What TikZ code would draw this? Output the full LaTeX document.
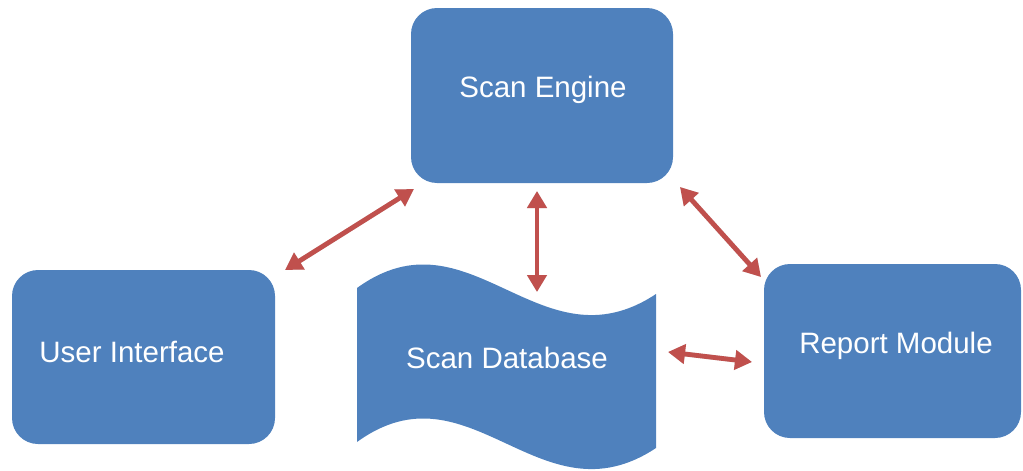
\documentclass[tikz,border=0pt]{standalone}
\usepackage{fontspec}
\setmainfont{Liberation Sans}
\usetikzlibrary{arrows.meta}
\definecolor{boxblue}{HTML}{4F81BD}
\definecolor{arrowred}{HTML}{C0504D}
\tikzset{
  block/.style={fill=boxblue, rounded corners=26pt},
  label/.style={text=white, font=\fontsize{29.5}{34}\selectfont, inner sep=0pt, anchor=base},
  link/.style={draw=arrowred, line width=4.8pt,
    {Triangle[length=17pt,width=19pt]}-{Triangle[length=17pt,width=19pt]}},
  linkshadow/.style={draw=black, opacity=0.16, line width=4.8pt,
    {Triangle[length=17pt,width=19pt]}-{Triangle[length=17pt,width=19pt]}}
}
\begin{document}
\begin{tikzpicture}[x=1pt, y=-1pt]
\useasboundingbox (0,0) rectangle (1023,471);

% boxes
\path[block] (411,8) rectangle (673,183);
\node[label] (engine) at (543,97.5) {Scan Engine};

\path[block] (12,270) rectangle (275,444);
\node[label] (ui) at (132,362) {User Interface};

\path[block] (764,264) rectangle (1021,438);
\node[label] (report) at (896,353) {Report Module};

% wave-shaped data store
\fill[boxblue] (357,288) .. controls (470,206) and (540,371) .. (656,294)
  -- (656,448) .. controls (540,525) and (470,360) .. (357,442) -- cycle;
\node[label] (db) at (507,368) {Scan Database};

% connector ends
\coordinate (uiA) at (285,270);
\coordinate (engA) at (414,189);
\coordinate (engB) at (537,191);
\coordinate (dbA) at (537,292);
\coordinate (engC) at (680,187);
\coordinate (repA) at (761,277);
\coordinate (dbB) at (668,352);
\coordinate (repB) at (752,362);

% shadows
\begin{scope}[shift={(2.5,3)}]
\draw[linkshadow] (uiA) -- (engA);
\draw[linkshadow] (engB) -- (dbA);
\draw[linkshadow] (engC) -- (repA);
\draw[linkshadow] (dbB) -- (repB);
\end{scope}

% connectors
\draw[link] (uiA) -- (engA);
\draw[link] (engB) -- (dbA);
\draw[link] (engC) -- (repA);
\draw[link] (dbB) -- (repB);
\end{tikzpicture}
\end{document}
